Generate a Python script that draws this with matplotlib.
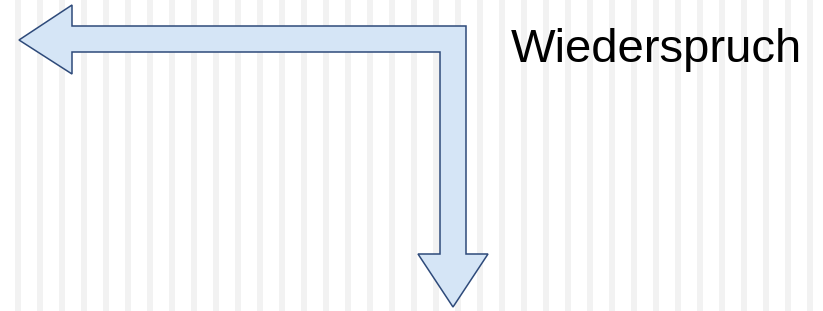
import numpy as np
import matplotlib.pyplot as plt
from matplotlib.patches import Polygon

# arrow outline (pixel coords, y down)
arrow_x = [19, 72, 72, 466, 466, 488, 453, 418, 440, 440, 72, 72]
arrow_y = [40, 5, 26, 26, 254, 254, 307, 254, 254, 52, 52, 74]
label = 'Wiederspruch'

# background stripes
stripe_start = 15
stripe_step = 22
stripe_count = 37

W, H = 823, 311
fig = plt.figure(figsize=(W / 100, H / 100), dpi=100)
ax = fig.add_axes([0, 0, 1, 1])
ax.set_xlim(0, W)
ax.set_ylim(H, 0)
ax.axis('off')

for i in range(stripe_count):
    x0 = stripe_start + i * stripe_step
    ax.axvspan(x0, x0 + 6, color='#f2f2f2', lw=0, zorder=0)

poly = Polygon(np.column_stack([arrow_x, arrow_y]), closed=True,
               facecolor='#d5e5f6', edgecolor='#2e4a7a', lw=1.1, zorder=2)
ax.add_patch(poly)

ax.text(511, 62, label, fontsize=34, family='Liberation Sans',
        color='black', va='baseline', ha='left', zorder=3)

fig.savefig('out.png', dpi=100)
